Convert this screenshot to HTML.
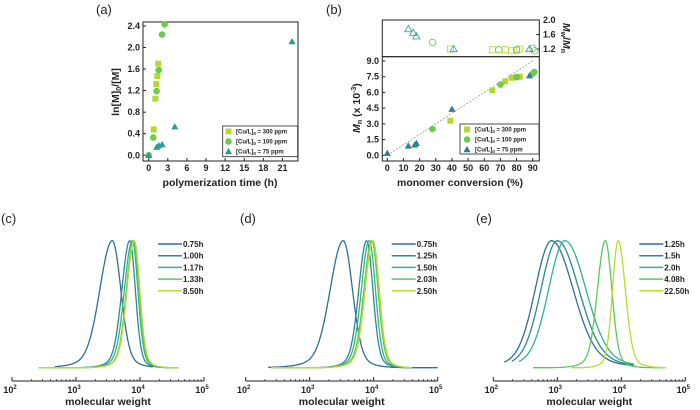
<!DOCTYPE html>
<html><head><meta charset="utf-8">
<style>
html,body{margin:0;padding:0;background:#fff;}
svg{display:block;font-family:"Liberation Sans",Arial,sans-serif;}
.t{font-size:9px;font-weight:bold;fill:#222;}
.lab{font-size:10.5px;font-weight:bold;fill:#222;}
.pl{font-size:13px;fill:#222;}
.lg{font-size:6px;font-weight:bold;fill:#222;}
.lg2{font-size:8px;font-weight:bold;fill:#222;}
</style></head>
<body>
<svg id="fig" width="700" height="410" viewBox="0 0 700 410">
<text class="pl" x="96" y="14">(a)</text>
<text class="pl" x="326" y="14">(b)</text>
<text class="pl" x="1" y="223">(c)</text>
<text class="pl" x="240" y="223">(d)</text>
<text class="pl" x="476" y="223">(e)</text>
</svg>
<script>
// ---- panel (a) data: kinetics ----
const aSqT=[0.78,1.05,1.2,1.35,1.5];
const aSqV=[0.48,1.05,1.32,1.47,1.7];
const aCiT=[0,0.72,1.25,1.57,2.1,2.5];
const aCiV=[0,0.33,1.19,1.58,2.24,2.43];
const aTrT=[0,1.25,1.6,2.1,4.1,22.5];
const aTrV=[0,0.15,0.18,0.2,0.53,2.11];
const aXTicks=[0,3,6,9,12,15,18,21];
const aYTicks=[0.0,0.4,0.8,1.2,1.6,2.0,2.4];
// ---- panel (b) data ----
const bSqX=[39,65,73,77,80,82];
const bSqMn=[3.3,6.2,7.05,7.4,7.45,7.5];
const bCiX=[28,70,80,90,91];
const bCiMn=[2.5,6.75,7.45,7.8,7.95];
const bTrX=[0,13,17,18,40,88];
const bTrMn=[0.2,0.9,1.0,1.15,4.4,7.6];
const bSqPdiX=[39,65,73,77,80,82];
const bSqPdi=[1.2,1.18,1.18,1.15,1.17,1.2];
const bCiPdiX=[28,69,80,90,91];
const bCiPdi=[1.38,1.18,1.18,1.22,1.15];
const bTrPdiX=[13,16,18,41,88];
const bTrPdi=[1.75,1.65,1.55,1.2,1.2];
const bXTicks=[0,10,20,30,40,50,60,70,80,90];
const bYTicks=[0.0,1.5,3.0,4.5,6.0,7.5,9.0];
const bPdiTicks=[1.2,1.6,2.0];
// ---- GPC panels: peak log10(M), left/right widths, start/end log M ----
const cLabels=["0.75h","1.00h","1.17h","1.33h","8.50h"];
const cPeak=[3.567,3.84,3.88,3.90,3.91];
const cSL=[0.19,0.12,0.12,0.11,0.11];
const cSR=[0.13,0.085,0.085,0.085,0.085];
const cStart=[2.67,2.42,2.42,2.42,2.42];
const cEnd=[4.2,4.6,4.6,4.6,4.6];
const dLabels=["0.75h","1.25h","1.50h","2.03h","2.50h"];
const dPeak=[3.525,3.89,3.93,3.97,3.99];
const dSL=[0.2,0.12,0.12,0.12,0.12];
const dSR=[0.14,0.095,0.095,0.095,0.095];
const dStart=[2.35,2.4,2.4,2.4,2.4];
const dEnd=[5.0,4.6,4.6,4.6,4.6];
const eLabels=["1.25h","1.5h","2.0h","4.08h","22.50h"];
const ePeak=[2.91,3.0,3.12,3.75,3.95];
const eSL=[0.25,0.25,0.25,0.12,0.085];
const eSR=[0.33,0.33,0.32,0.1,0.11];
const eStart=[2.17,2.29,2.4,2.62,3.22];
const eEnd=[4.2,4.2,4.2,4.7,4.7];
const gpcColors=["#2e6f96","#2a8a90","#30b48a","#5dc85a","#b5dd2c"];

const NS="http://www.w3.org/2000/svg";
const svg=document.getElementById('fig');
function mk(tag,attrs,parent){const e=document.createElementNS(NS,tag);for(const k in attrs)e.setAttribute(k,attrs[k]);(parent||svg).appendChild(e);return e;}
function fmt(v,d){return v.toFixed(d);}

const SQC="#b4d92e",CIC="#6ccb4c",TRC="#2a9d8f",TRB="#2b8290";
function marker(type,x,y,color,open,name){
  let e;
  const fill=open?"none":color, st=open?color:"none";
  if(type==='sq') e=mk('rect',{x:x-3,y:y-3,width:6,height:6,fill:fill,stroke:st,'stroke-width':0.8});
  else if(type==='ci') e=mk('circle',{cx:x,cy:y,r:3.3,fill:fill,stroke:st,'stroke-width':0.8});
  else e=mk('polygon',{points:`${x},${y-3.6} ${x+3.6},${y+2.7} ${x-3.6},${y+2.7}`,fill:fill,stroke:st,'stroke-width':0.8});
  
  
  return e;
}

// ===== Panel A =====
const xa=v=>148.7+v*6.37, ya=v=>155.3-v*53.9;
let fa=mk('rect',{x:143,y:22,width:155,height:139,fill:'none',stroke:'#222','stroke-width':1});


aXTicks.forEach(v=>{
  let l=mk('line',{x1:xa(v),x2:xa(v),y1:161,y2:158,stroke:'#222'});
  
  
  let t=mk('text',{x:xa(v),y:171,'text-anchor':'middle',class:'t'});t.textContent=v;
  
  
});
aYTicks.forEach(v=>{
  let l=mk('line',{x1:143,x2:146,y1:ya(v),y2:ya(v),stroke:'#222'});
  
  
  let t=mk('text',{x:140,y:ya(v)+3,'text-anchor':'end',class:'t'});t.textContent=fmt(v,1);
  
  
});
let axl=mk('text',{x:220,y:186,'text-anchor':'middle',class:'lab'});axl.textContent='polymerization time (h)';


let ayl=mk('text',{x:0,y:0,'text-anchor':'middle',class:'lab',transform:'translate(119,92) rotate(-90)'});
ayl.innerHTML='ln[M]<tspan font-size="7" dy="2">0</tspan><tspan dy="-2">/[M]</tspan>';


aSqT.forEach((t,i)=>marker('sq',xa(t),ya(aSqV[i]),SQC,false,'a-point-300ppm'));
aCiT.forEach((t,i)=>marker('ci',xa(t),ya(aCiV[i]),CIC,false,'a-point-100ppm'));
aTrT.forEach((t,i)=>marker('tr',xa(t),ya(aTrV[i]),TRC,false,'a-point-75ppm'));
let lga=mk('rect',{x:222.7,y:126,width:75,height:30.7,fill:'#fff',stroke:'#222','stroke-width':0.8});


[['sq',SQC,'300'],['ci',CIC,'100'],['tr',TRC,'75']].forEach((r,i)=>{
  const y=131.5+i*10;
  marker(r[0],228.5,y,r[1],false,'a-legend-marker');
  let t=mk('text',{x:236,y:y+2.2,class:'lg'});t.innerHTML='[Cu/L]<tspan font-size="4.5" dy="1.5">0</tspan><tspan dy="-1.5"> = '+r[2]+' ppm</tspan>';
  
  
});

// ===== Panel B =====
const xb=v=>387.3+v*1.616, yb=v=>155.3-v*10.48, ybt=v=>20+(2.0-v)*36.25;
let fb1=mk('rect',{x:382.3,y:20,width:157,height:36.7,fill:'none',stroke:'#222','stroke-width':1});


let fb2=mk('rect',{x:382.3,y:56.7,width:157,height:104.3,fill:'none',stroke:'#222','stroke-width':1});


bXTicks.forEach(v=>{
  let l=mk('line',{x1:xb(v),x2:xb(v),y1:161,y2:158,stroke:'#222'});
  
  
  let t=mk('text',{x:xb(v),y:171,'text-anchor':'middle',class:'t'});t.textContent=v;
  
  
});
bYTicks.forEach(v=>{
  let l=mk('line',{x1:382.3,x2:385.3,y1:yb(v),y2:yb(v),stroke:'#222'});
  
  
  let t=mk('text',{x:379,y:yb(v)+3,'text-anchor':'end',class:'t'});t.textContent=fmt(v,1);
  
  
});
bPdiTicks.forEach(v=>{
  let l=mk('line',{x1:536.3,x2:539.3,y1:ybt(v),y2:ybt(v),stroke:'#222'});
  
  
  let t=mk('text',{x:543,y:ybt(v)+3,class:'t'});t.textContent=fmt(v,1);
  
  
});
let bxl=mk('text',{x:460,y:186,'text-anchor':'middle',class:'lab'});bxl.textContent='monomer conversion (%)';


let byl=mk('text',{x:0,y:0,'text-anchor':'middle',class:'lab',transform:'translate(360,108) rotate(-90)'});
byl.innerHTML='<tspan font-style="italic">M</tspan><tspan font-size="7" dy="2">n</tspan><tspan dy="-2"> (x 10</tspan><tspan font-size="7" dy="-4">-3</tspan><tspan dy="4">)</tspan>';


let byr=mk('text',{x:0,y:0,'text-anchor':'middle',class:'lab',transform:'translate(563,38) rotate(90)'});
byr.innerHTML='<tspan font-style="italic">M</tspan><tspan font-size="7" dy="2">w</tspan><tspan dy="-2">/</tspan><tspan font-style="italic">M</tspan><tspan font-size="7" dy="2">n</tspan>';


let th=mk('line',{x1:xb(0),y1:yb(0),x2:xb(91),y2:yb(9.1),stroke:'#999','stroke-width':0.8,'stroke-dasharray':'2,1.5'});


bSqX.forEach((x,i)=>marker('sq',xb(x),yb(bSqMn[i]),SQC,false,'b-mn-300ppm'));
bCiX.forEach((x,i)=>marker('ci',xb(x),yb(bCiMn[i]),CIC,false,'b-mn-100ppm'));
bTrX.forEach((x,i)=>marker('tr',xb(x),yb(bTrMn[i]),TRB,false,'b-mn-75ppm'));
bSqPdiX.forEach((x,i)=>marker('sq',xb(x),ybt(bSqPdi[i]),SQC,true,'b-pdi-300ppm'));
bCiPdiX.forEach((x,i)=>marker('ci',xb(x),ybt(bCiPdi[i]),CIC,true,'b-pdi-100ppm'));
bTrPdiX.forEach((x,i)=>marker('tr',xb(x),ybt(bTrPdi[i]),TRC,true,'b-pdi-75ppm'));
let lgb=mk('rect',{x:460,y:124,width:79,height:30,fill:'#fff',stroke:'#222','stroke-width':0.8});


[['sq',SQC,'300'],['ci',CIC,'100'],['tr',TRB,'75']].forEach((r,i)=>{
  const y=129.5+i*10;
  marker(r[0],467,y,r[1],false,'b-legend-marker');
  let t=mk('text',{x:475,y:y+2.2,class:'lg'});t.innerHTML='[Cu/L]<tspan font-size="4.5" dy="1.5">0</tspan><tspan dy="-1.5"> = '+r[2]+' ppm</tspan>';
  
  
});

// ===== GPC panels =====
function gpc(x0,id,labels,peak,sl,sr,st,en){
  const X=l=>x0+(l-2)*64, base=367.7, H=127;
  let ax=mk('line',{x1:X(2),x2:X(5),y1:381,y2:381,stroke:'#222','stroke-width':1});
  
  
  for(let d=2;d<=5;d++){
    let l=mk('line',{x1:X(d),x2:X(d),y1:377,y2:381,stroke:'#222'});
    
    
    let t=mk('text',{x:X(d)-2,y:393,'text-anchor':'middle',class:'t'});t.innerHTML='10<tspan font-size="6" dy="-4">'+d+'</tspan>';
    
    
    if(d<5)for(let m=2;m<10;m++){
      let ml=mk('line',{x1:X(d+Math.log10(m)),x2:X(d+Math.log10(m)),y1:379,y2:381,stroke:'#222','stroke-width':0.7});
      
      
    }
  }
  let xl=mk('text',{x:X(3.5),y:405,'text-anchor':'middle',class:'lab'});xl.textContent='molecular weight';
  
  
  labels.forEach((lab,i)=>{
    let pts=[];
    for(let l=st[i];l<=en[i]+1e-9;l+=0.01){
      const s=l<peak[i]?sl[i]:sr[i];
      const z=(l-peak[i])/s;
      const y=0.92*Math.exp(-0.5*z*z)+0.08*Math.exp(-0.5*Math.pow(z/2.2,2));
      pts.push(X(l).toFixed(1)+','+(base-y*H).toFixed(1));
    }
    let p=mk('polyline',{points:pts.join(' '),fill:'none',stroke:gpcColors[i],'stroke-width':1.3});
    
    
    const ly=244+i*11.7;
    let ll=mk('line',{x1:x0+146,x2:x0+170,y1:ly,y2:ly,stroke:gpcColors[i],'stroke-width':1.5});
    
    
    let lt=mk('text',{x:x0+171,y:ly+3,class:'lg2'});lt.textContent=lab;
    
    
  });
}
gpc(12,'c',cLabels,cPeak,cSL,cSR,cStart,cEnd);
gpc(245.7,'d',dLabels,dPeak,dSL,dSR,dStart,dEnd);
gpc(493.3,'e',eLabels,ePeak,eSL,eSR,eStart,eEnd);
</script>
</body></html>
